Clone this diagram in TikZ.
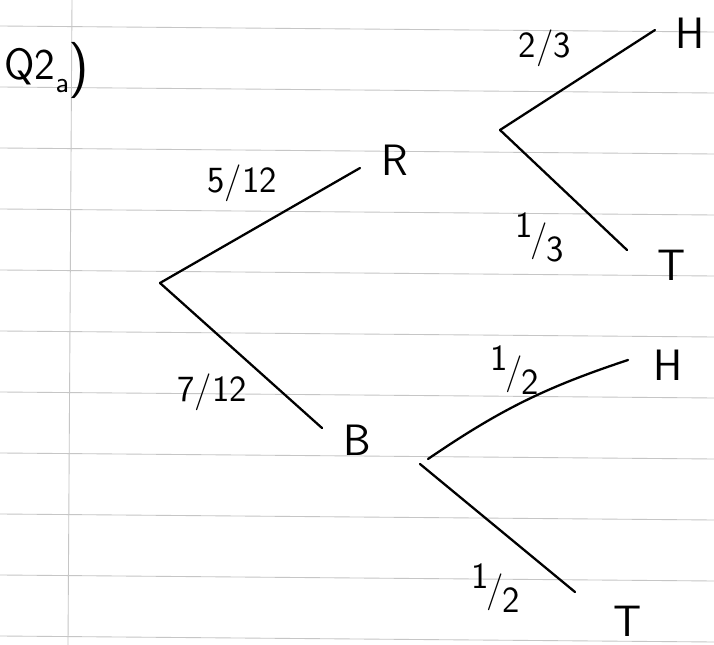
\documentclass[tikz,border=0pt]{standalone}
\usepackage{tikz}
\usetikzlibrary{calc}

\newcommand{\hfr}[2]{\raisebox{.35em}{#1}\kern-.08em/\kern-.02em\raisebox{-.3em}{#2}}

\begin{document}
\begin{tikzpicture}[x=0.02cm, y=-0.02cm, line cap=round,
    paper/.style={gray!45, line width=0.5pt},
    pen/.style={black, line width=1.3pt},
    lbl/.style={font=\sffamily\fontsize{25}{30}\selectfont, inner sep=0pt},
    prob/.style={font=\sffamily\fontsize{21}{25}\selectfont, inner sep=0pt}]
        \useasboundingbox (0,0) rectangle (714,645);
        % ruled paper
        \fill[white] (0,0) rectangle (714,645);
        \foreach \y in {26,87,...,636}
            \draw[paper] (0,\y) -- (714,\y+6);
        \draw[paper] (72,0) -- (68,645);

        % question number
        \node[lbl] (q) at (47,70) {Q2\raisebox{-.3em}{\fontsize{17}{20}\selectfont a}\raisebox{-.1em}{\fontsize{32}{34}\selectfont )}};

        % first branch: colour
        \coordinate (root) at (160,283);
        \node[lbl] (R) at (395,160) {R};
        \node[lbl] (B) at (357,440) {B};
        \draw[pen] (root) -- ($(R)+(-35,8)$);
        \draw[pen] (root) -- ($(B)+(-35,-12)$);
        \node[prob] (pR) at (242,183) {5/12};
        \node[prob] (pB) at (212,392) {7/12};

        % second branch after R
        \coordinate (fR) at (500,130);
        \node[lbl] (RH) at (690,33) {H};
        \node[lbl] (RT) at (672,265) {T};
        \draw[pen] (fR) -- ($(RH)+(-35,-3)$);
        \draw[pen] (fR) -- ($(RT)+(-45,-15)$);
        \node[prob] (pRH) at (545,48) {2/3};
        \node[prob] (pRT) at (540,237) {\hfr{1}{3}};

        % second branch after B
        \coordinate (fB) at (428,459);
        \coordinate (fB2) at (420,464);
        \node[lbl] (BH) at (668,365) {H};
        \node[lbl] (BT) at (628,621) {T};
        \draw[pen] (fB) to[bend left=8] ($(BH)+(-40,-5)$);
        \draw[pen] (fB2) -- ($(BT)+(-53,-29)$);
        \node[prob] (pBH) at (515,370) {\hfr{1}{2}};
        \node[prob] (pBT) at (496,588) {\hfr{1}{2}};
\end{tikzpicture}
\end{document}
